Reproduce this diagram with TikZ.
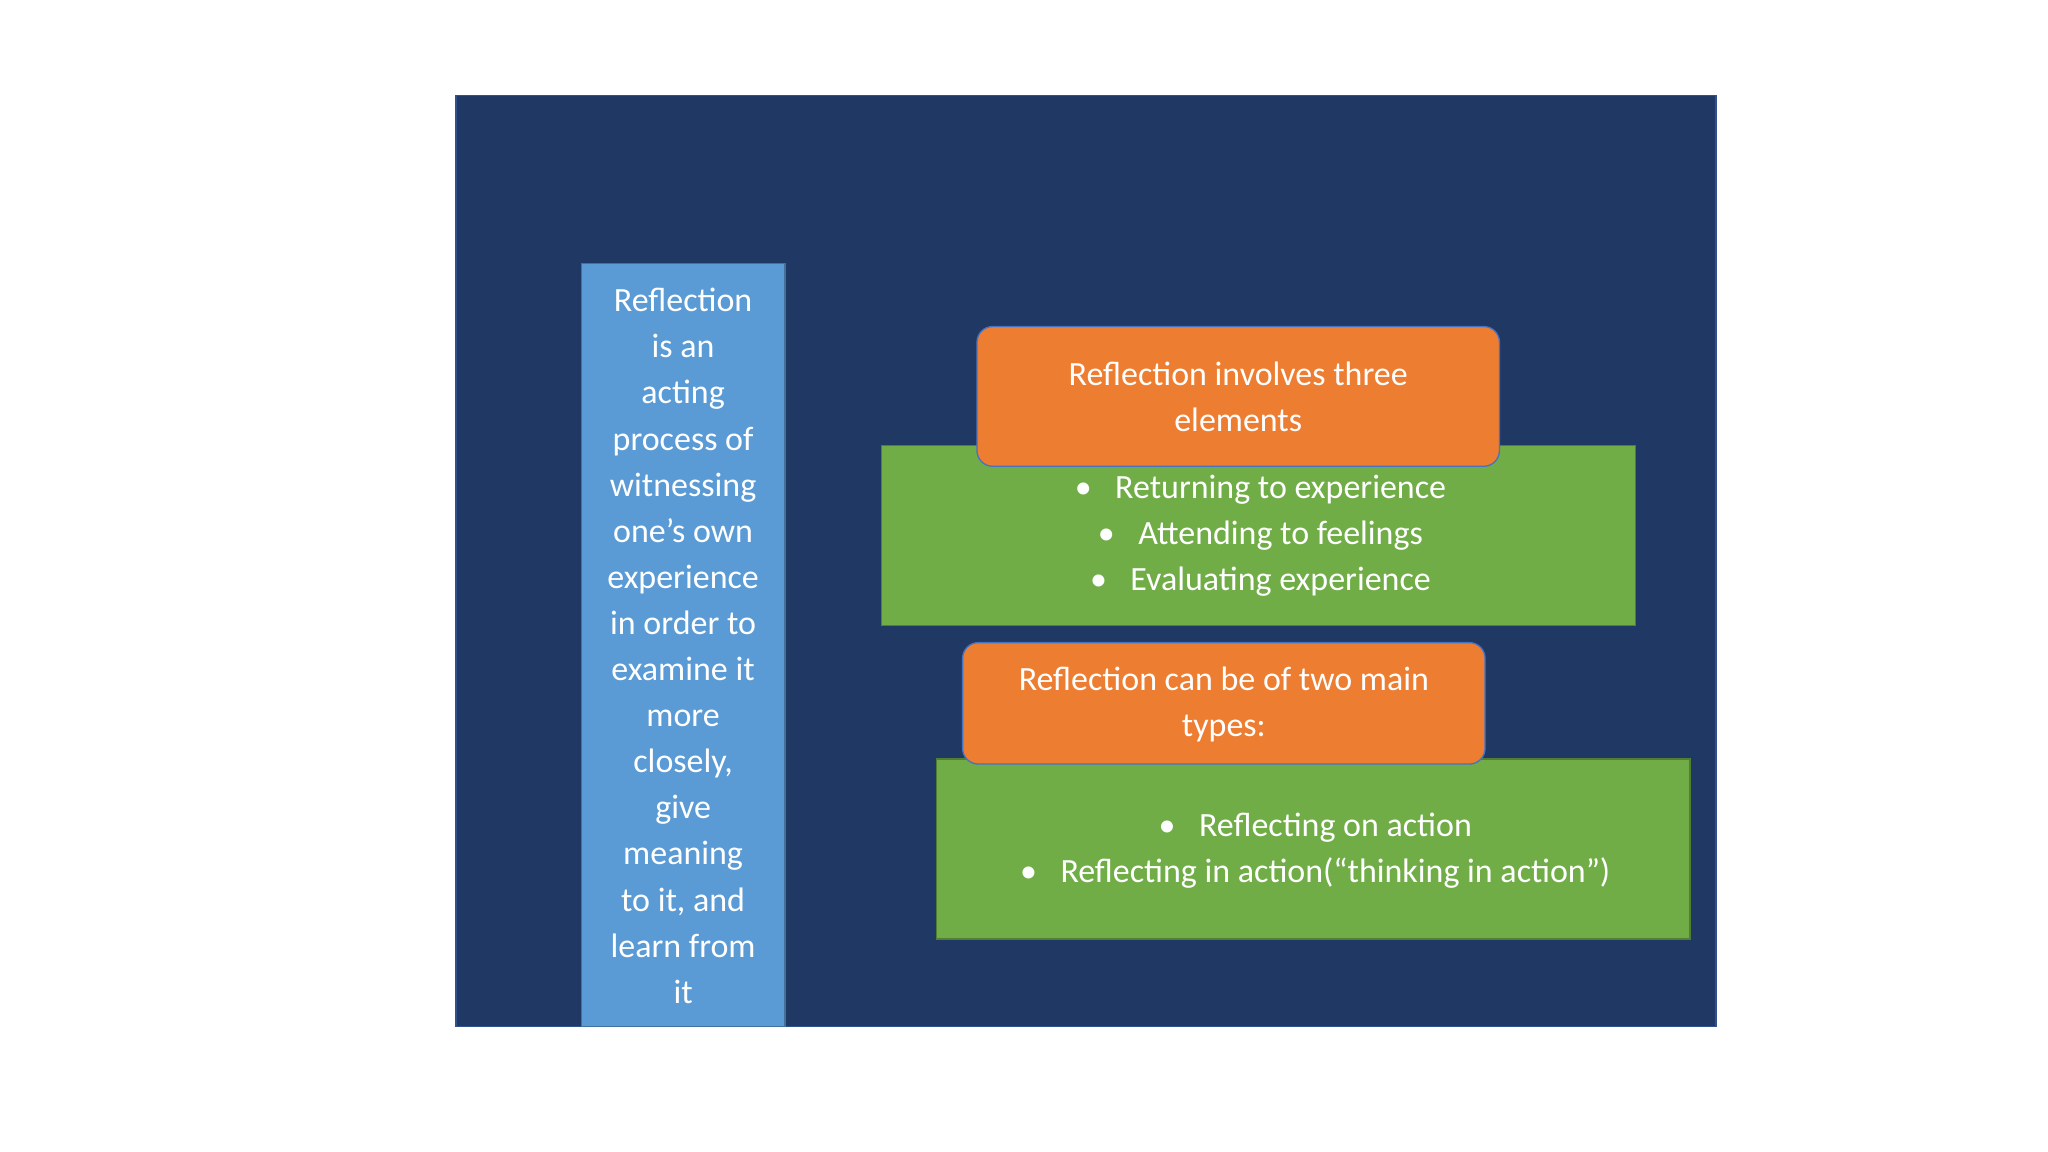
\documentclass[tikz,border=0pt]{standalone}
\usepackage{fontspec}
\setmainfont{Carlito}
\begin{document}
\begin{tikzpicture}[x=1pt,y=-1pt,
  txt/.style={text=white,font=\fontsize{26}{35.3}\selectfont,align=center},
  gbox/.style={fill=green!45!black!20!,fill={rgb,255:red,112;green,173;blue,71},draw={rgb,255:red,80;green,126;blue,50},line width=1pt},
  obox/.style={fill={rgb,255:red,237;green,125;blue,49},draw={rgb,255:red,68;green,114;blue,196},line width=1pt,rounded corners=12pt}]
\useasboundingbox (0,0) rectangle (1568,882);
\fill[white] (0,0) rectangle (1568,882);
\filldraw[fill={rgb,255:red,32;green,56;blue,100},draw={rgb,255:red,47;green,82;blue,143},line width=1.2pt] (349,73) rectangle (1314,786);
\filldraw[fill={rgb,255:red,91;green,155;blue,213},draw={rgb,255:red,65;green,113;blue,156},line width=1pt] (445,202) rectangle (601,786);
\node[txt] (col) at (523,494.5) {Reflection\\is an\\acting\\process of\\witnessing\\one’s own\\experience\\in order to\\examine it\\more\\closely,\\give\\meaning\\to it, and\\learn from\\it};
\draw[gbox] (675,341) rectangle (1252,479);
\draw[obox] (748,250) rectangle (1148,357);
\node[txt] (o1) at (948,304) {Reflection involves three\\elements};
\node[txt] (l1) at (965,410) {•\hspace{18pt}Returning to experience\\•\hspace{18pt}Attending to feelings\\•\hspace{18pt}Evaluating experience};
\draw[gbox] (717,581) rectangle (1294,719);
\draw[obox] (737,492) rectangle (1137,585);
\node[txt] (o2) at (937,539) {Reflection can be of two main\\types:};
\node[txt] (l2) at (1007,651) {•\hspace{18pt}Reflecting on action\\•\hspace{18pt}Reflecting in action(“thinking in action”)};
\end{tikzpicture}
\end{document}
